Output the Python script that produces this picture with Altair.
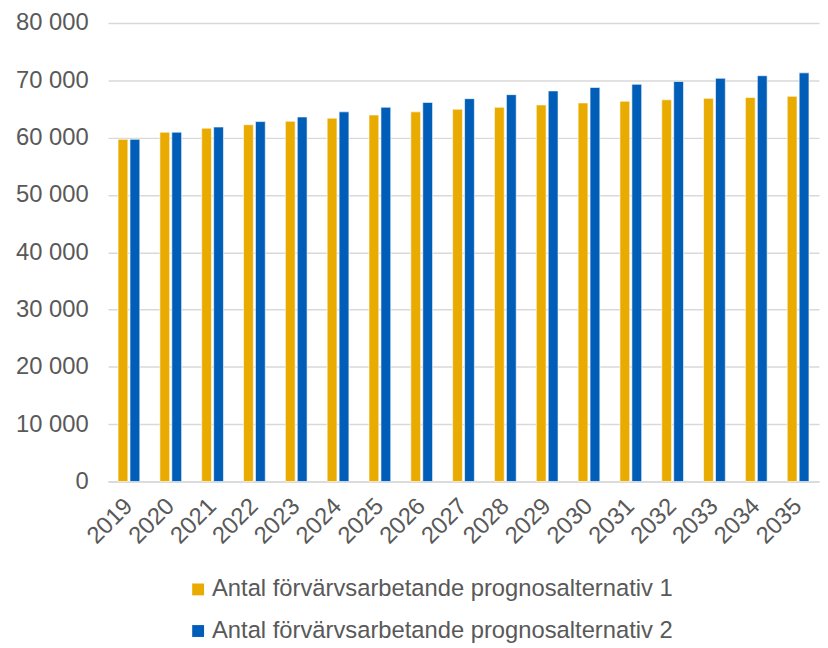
import altair as alt
import pandas as pd

years = [str(y) for y in range(2019, 2036)]
alt1 = [59700, 60950, 61650, 62250, 62850, 63400, 63950, 64500, 64950,
        65300, 65700, 66050, 66350, 66600, 66850, 67000, 67200]
alt2 = [59700, 60950, 61850, 62800, 63600, 64500, 65300, 66150, 66800,
        67500, 68150, 68750, 69300, 69800, 70350, 70800, 71300]
series = ["Antal förvärvsarbetande prognosalternativ 1",
          "Antal förvärvsarbetande prognosalternativ 2"]
colors = ["#EAAB00", "#005EB8"]

rows = []
for i, y in enumerate(years):
    rows.append({"year": y, "series": series[0], "value": alt1[i]})
    rows.append({"year": y, "series": series[1], "value": alt2[i]})
df = pd.DataFrame(rows)

FONT = "Liberation Sans"
GRAY = "#595959"
FS = 24

chart = alt.Chart(df).mark_bar(stroke="white", strokeWidth=1, strokeOpacity=0.6).encode(
    x=alt.X("year:N", sort=years,
            scale=alt.Scale(paddingInner=0.48, paddingOuter=0.24),
            axis=alt.Axis(title=None, labelAngle=-45, labelAlign="right",
                          labelBaseline="middle", labelPadding=21,
                          labelFontSize=FS, labelFont=FONT, labelColor=GRAY,
                          ticks=False, domain=True, domainColor="#D9D9D9",
                          domainWidth=1.5, grid=False)),
    xOffset=alt.XOffset("series:N", sort=series,
                        scale=alt.Scale(paddingInner=0.18)),
    y=alt.Y("value:Q",
            scale=alt.Scale(domain=[0, 80000], nice=False),
            axis=alt.Axis(title=None, values=list(range(0, 80001, 10000)),
                          labelExpr="datum.value == 0 ? '0' : format(datum.value/1000, 'd') + ' 000'",
                          labelFontSize=FS, labelFont=FONT, labelColor=GRAY,
                          labelPadding=20, ticks=False, domain=False,
                          grid=True, gridColor="#D9D9D9", gridWidth=1.5)),
    color=alt.Color("series:N", sort=series,
                    scale=alt.Scale(domain=series, range=colors),
                    legend=alt.Legend(title=None, orient="none", legendX=79,
                                      legendY=560, direction="vertical",
                                      symbolType="square", symbolSize=144,
                                      symbolStrokeWidth=0, labelFontSize=FS,
                                      labelFont=FONT, labelColor=GRAY,
                                      labelOffset=2, rowPadding=18, padding=0,
                                      labelLimit=700)),
).properties(
    width=718, height=463,
    autosize=alt.AutoSizeParams(type="none"),
    padding={"left": 101, "top": 12, "right": 1, "bottom": 165},
).configure_view(stroke=None)

chart.save("out.html", embed_options={"renderer": "svg", "actions": False})
